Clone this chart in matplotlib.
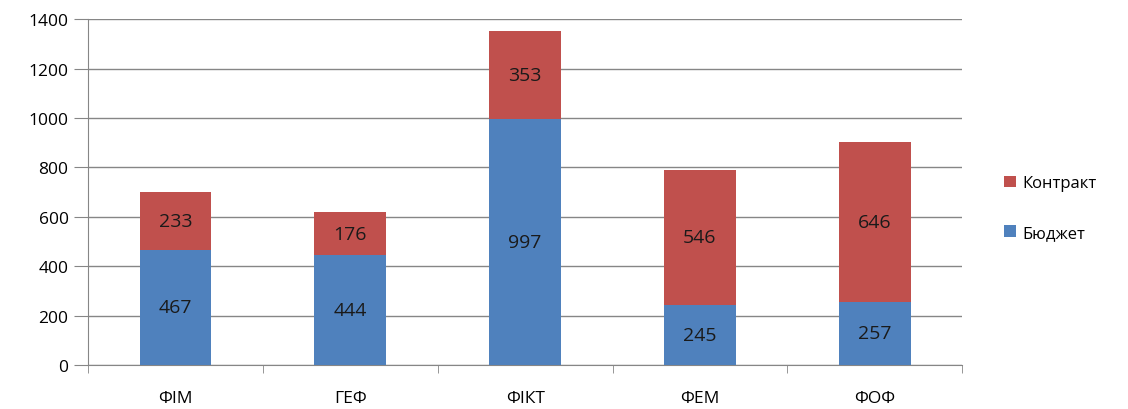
import matplotlib.pyplot as plt
import numpy as np

faculties = ['ФІМ', 'ГЕФ', 'ФІКТ', 'ФЕМ', 'ФОФ']
budget = [467, 444, 997, 245, 257]
contract = [233, 176, 353, 546, 646]

blue = '#4F81BD'
red = '#C0504D'
grey = '#868686'

plt.rcParams['font.family'] = ['Open Sans', 'DejaVu Sans']

fig = plt.figure(figsize=(11.28, 4.10), dpi=100)
ax = fig.add_axes([0.078, 0.107, 0.775, 0.844])

x = np.arange(len(faculties))
w = 0.41
b1 = ax.bar(x, budget, w, color=blue, label='Бюджет', zorder=3)
b2 = ax.bar(x, contract, w, bottom=budget, color=red, label='Контракт', zorder=3)
ax.bar_label(b1, label_type='center', fontsize=14, color='#1a1a1a')
ax.bar_label(b2, label_type='center', fontsize=14, color='#1a1a1a')

ax.set_ylim(0, 1400)
ax.set_yticks(range(0, 1401, 200))
ax.set_xlim(-0.5, len(faculties) - 0.5)
ax.set_xticks(x)
ax.set_xticklabels(faculties)
ax.set_xticks(np.arange(-0.5, len(faculties)), minor=True)
ax.tick_params(axis='x', which='major', length=0, pad=18, labelsize=12.5)
ax.tick_params(axis='x', which='minor', length=6, color=grey)
ax.tick_params(axis='y', length=10, color=grey, labelsize=12.5, pad=4)

ax.yaxis.grid(True, color=grey, linewidth=1, zorder=0)
for s in ['top', 'right']:
    ax.spines[s].set_visible(False)
for s in ['left', 'bottom']:
    ax.spines[s].set_color(grey)

handles = [b2, b1]
fig.legend(handles, ['Контракт', 'Бюджет'], loc='center left',
           bbox_to_anchor=(0.877, 0.49), frameon=False, fontsize=12,
           handlelength=0.7, handleheight=0.7, handletextpad=0.4,
           labelspacing=2.0)

fig.savefig('out.png')
